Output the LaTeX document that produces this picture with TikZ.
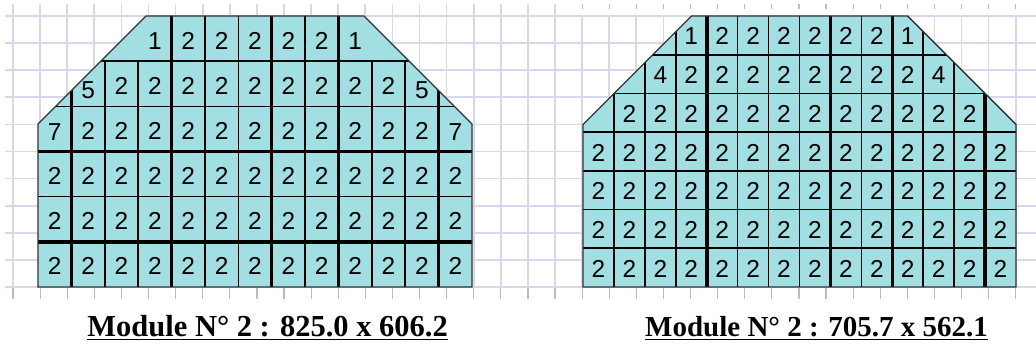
\documentclass[tikz,border=0pt]{standalone}
\usepackage{fontspec}
\setmainfont{Liberation Serif}
\newfontfamily\cellfont{Liberation Sans}
\definecolor{cellfill}{RGB}{162,223,227}
\definecolor{gridc}{RGB}{216,216,236}
\definecolor{tickc}{RGB}{185,185,210}
\definecolor{outc}{RGB}{50,50,50}
\begin{document}
\begin{tikzpicture}[x=1pt,y=-1pt,
  thin line/.style={line width=1.6pt, black},
  thick line/.style={line width=3.6pt, black},
  outline/.style={line width=1.4pt, draw=outc},
  bgrid/.style={draw=gridc, line width=1.7pt},
  btick/.style={draw=tickc, line width=1.2pt},
  celltext/.style={font=\cellfont\fontsize{24.5}{24.5}\selectfont, inner sep=0pt},
  captionL/.style={font=\bfseries\fontsize{30.5}{30.5}\selectfont, inner sep=0pt},
  captionR/.style={font=\bfseries\fontsize{29}{29}\selectfont, inner sep=0pt}]

\useasboundingbox (0,0) rectangle (1036,352);
\fill[white] (0,0) rectangle (1036,352);

% background grid
\foreach \i in {0,...,37} {
  \pgfmathsetmacro\gx{13+27.1*\i}
  \pgfmathparse{\gx<570?1:0}
  \ifnum\pgfmathresult=1
    \draw[bgrid] (\gx,4) -- (\gx,287);
  \else
    \draw[bgrid] (\gx,16) -- (\gx,287);
    \draw[btick] (\gx,4) -- (\gx,9);
  \fi
  \draw[btick] (\gx,287) -- (\gx,299);
}
\foreach \j in {0,...,10} {
  \pgfmathsetmacro\gy{16+27.1*\j}
  \draw[bgrid] (5,\gy) -- (1036,\gy);
}

% ---------------- left module ----------------
\def\lpoly{(38,287) -- (38,124) -- (146,16) -- (364,16) -- (472,124) -- (472,287) -- cycle}
\fill[cellfill] \lpoly;
\begin{scope}
  \clip \lpoly;
  \foreach \j/\st in {1/thin line,2/thin line,3/thick line,4/thin line,5/thick line} {
    \pgfmathsetmacro\yy{16+45.167*\j}
    \draw[\st] (30,\yy) -- (480,\yy);
  }
  % verticals present in every row
  \foreach \i/\st in {4/thick line,5/thin line,6/thin line,7/thick line,8/thin line,9/thick line} {
    \pgfmathsetmacro\xx{38+33.385*\i}
    \draw[\st] (\xx,10) -- (\xx,290);
  }
  % verticals from row 2 down
  \foreach \i/\st in {1/thick line,2/thin line,3/thin line,10/thin line,11/thin line,12/thick line} {
    \pgfmathsetmacro\xx{38+33.385*\i}
    \draw[\st] (\xx,61.2) -- (\xx,290);
  }
\end{scope}
\draw[outline] \lpoly;

% left labels: row / first col / last col / digit / y shift
\foreach \r/\a/\b/\d/\dy in {0/3/3/1/0, 0/4/8/2/0, 0/9/9/1/0,
    1/1/1/5/4, 1/2/10/2/0, 1/11/11/5/4,
    2/0/0/7/1, 2/1/11/2/0, 2/12/12/7/1,
    3/0/12/2/0, 4/0/12/2/0, 5/0/12/2/0} {
  \foreach \c in {\a,...,\b} {
    \pgfmathsetmacro\xx{38+33.385*(\c+0.5)}
    \pgfmathsetmacro\yy{16+45.167*(\r+0.5)+2+\dy}
    \node[celltext] (L-\r-\c) at (\xx,\yy) {\d};
  }
}

% ---------------- right module ----------------
\def\rpoly{(583,287) -- (583,124.5) -- (691.5,16) -- (907.5,16) -- (1016,124.5) -- (1016,287) -- cycle}
\fill[cellfill] \rpoly;
\begin{scope}
  \clip \rpoly;
  \foreach \j in {1,...,6} {
    \pgfmathsetmacro\yy{16+38.714*\j}
    \draw[thin line] (575,\yy) -- (1025,\yy);
  }
  \foreach \i/\st in {1/thin line,2/thin line,3/thin line,4/thick line,5/thin line,6/thin line,7/thin line,8/thick line,9/thin line,10/thick line,11/thin line,12/thin line,13/thick line} {
    \pgfmathsetmacro\xx{583+30.929*\i}
    \draw[\st] (\xx,10) -- (\xx,290);
  }
\end{scope}
\draw[outline] \rpoly;

\foreach \r/\a/\b/\d in {0/3/3/1, 0/4/9/2, 0/10/10/1,
    1/2/2/4, 1/3/10/2, 1/11/11/4,
    2/1/12/2, 3/0/13/2, 4/0/13/2, 5/0/13/2, 6/0/13/2} {
  \foreach \c in {\a,...,\b} {
    \pgfmathsetmacro\xx{583+30.929*(\c+0.5)}
    \pgfmathsetmacro\yy{16+38.714*(\r+0.5)+1}
    \node[celltext] (R-\r-\c) at (\xx,\yy) {\d};
  }
}

% captions
\node[captionL, anchor=base east] (capL) at (448,337) {\underline{Module N° 2 : 825.0 x 606.2}};
\node[captionR, anchor=base west] (capR) at (645,337) {\underline{Module N° 2 : 705.7 x 562.1}};
\end{tikzpicture}
\end{document}
